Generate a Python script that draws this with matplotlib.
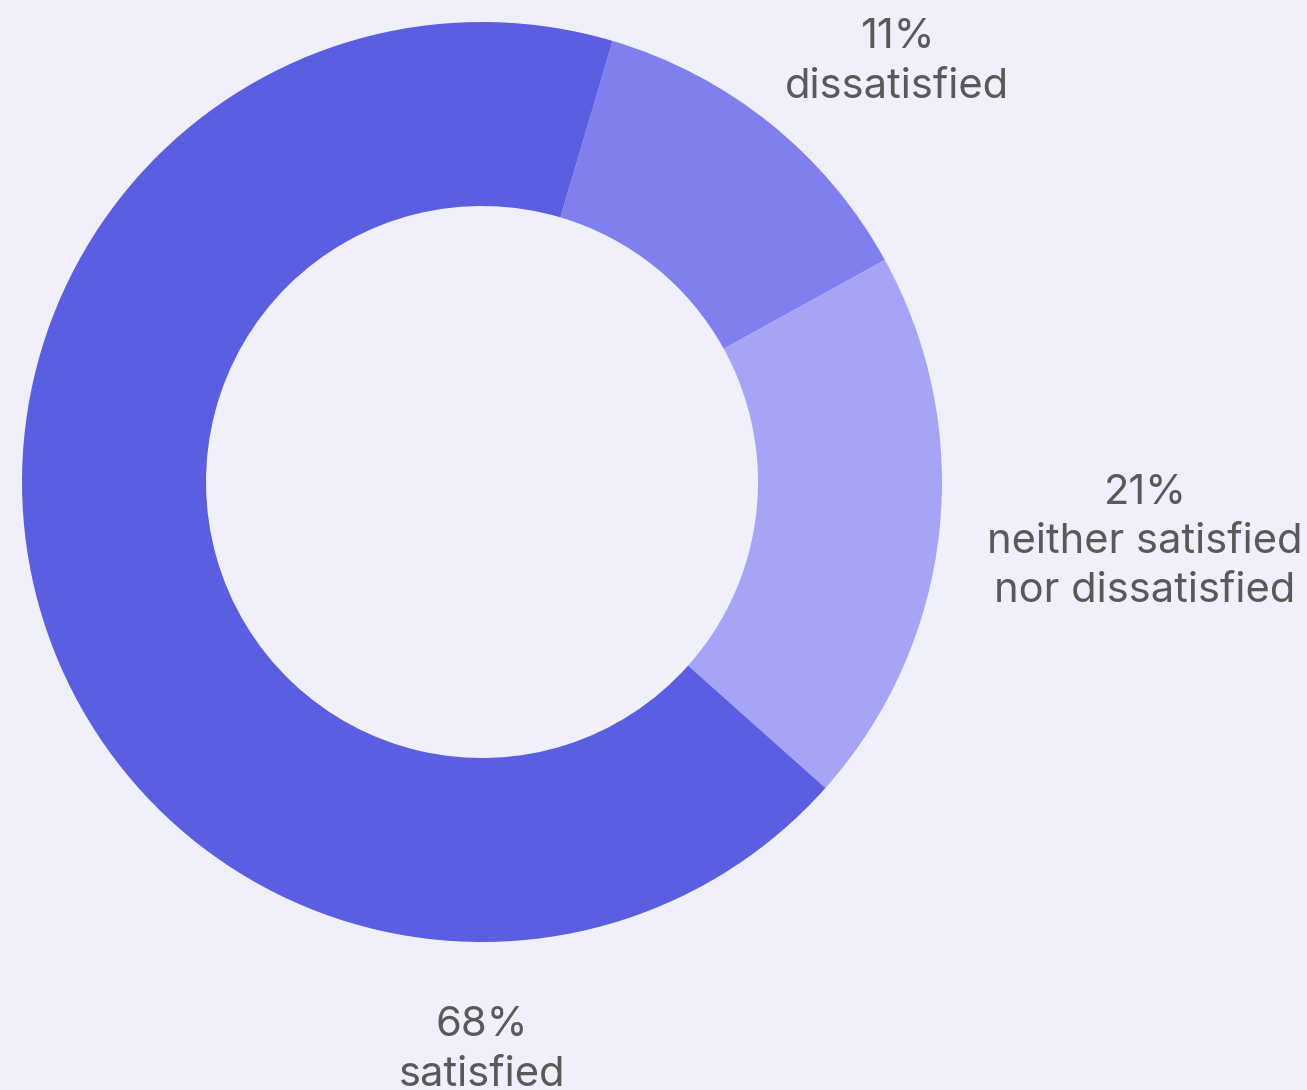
import matplotlib
matplotlib.use("Agg")
import matplotlib.pyplot as plt

# slice shares as drawn (clockwise from the top-right boundary)
categories = ["dissatisfied", "neither satisfied\nnor dissatisfied", "satisfied"]
shares = [12.4, 19.6, 68.0]
label_pct = ["11%", "21%", "68%"]
colors = ["#7F7FF0", "#A5A5F8", "#5B5EE0"]

bg = "#F0F0FC"

fig = plt.figure(figsize=(13.07, 10.90), dpi=100, facecolor=bg)
ax = fig.add_axes([0, 0, 1, 1])
ax.set_facecolor(bg)

# donut
ax.pie(shares, colors=colors, startangle=73.5, counterclock=False,
       radius=1.0, wedgeprops=dict(width=0.4, linewidth=0))

# pixel-based limits so the ring sits where the reference has it
R = 460.0
cx, cy = 482.0, 482.0
ax.set_xlim(-cx / R, (1307 - cx) / R)
ax.set_ylim(-(1090 - cy) / R, cy / R)
ax.set_aspect("auto")
ax.axis("off")

# labels (positions in pixels from top-left)
label_pos = [(897, 62), (1145, 542), (482, 1050)]
for pct, cat, (px, py) in zip(label_pct, categories, label_pos):
    ax.text((px - cx) / R, (cy - py) / R, pct + "\n" + cat,
            ha="center", va="center", multialignment="center",
            fontsize=30, color="#595959", family=["Inter", "DejaVu Sans"],
            linespacing=1.38)

fig.savefig("out.png", dpi=100, facecolor=bg)
